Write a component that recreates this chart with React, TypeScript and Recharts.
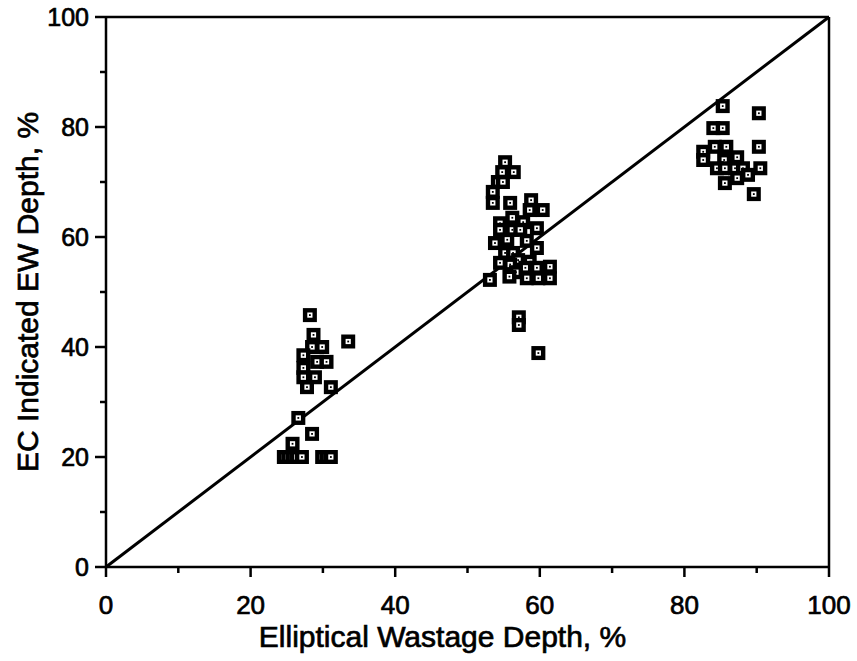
import React from 'react';
import { ScatterChart, Scatter, XAxis, YAxis, ReferenceLine, Label } from 'recharts';

// Elliptical wastage depth (x) vs. eddy-current indicated depth (y), in %
const shallowX = [28.2, 28.7, 33.5, 28.5, 29.9, 27.3, 29.2, 30.5, 27.3, 27.3, 28.9, 27.8, 31.1, 26.6, 28.5, 25.8, 24.6, 25.2, 25.8, 26.4, 27.1, 29.9, 30.5, 31.1];
const shallowY = [45.8, 42.2, 41.0, 40.0, 40.0, 38.5, 37.3, 37.3, 36.2, 34.5, 34.5, 32.7, 32.7, 27.1, 24.2, 22.4, 20, 20, 20, 20, 20, 20, 20, 20];

const mediumX = [55.2, 54.8, 56.4, 54.2, 54.9, 53.5, 53.5, 55.9, 58.8, 58.6, 60.4, 56.2, 54.5, 57.7, 59.6, 54.5, 56.2, 57.3, 55.5, 58.2, 53.8, 59.6, 55.2, 56.3, 57.0, 54.5, 55.9, 58.6, 58.0, 59.6, 61.4, 56.7, 55.8, 58.2, 59.8, 61.4, 53.1, 57.1, 57.1, 59.8];
const mediumY = [73.6, 71.8, 71.8, 70.0, 70.0, 68.2, 66.2, 66.2, 66.7, 64.9, 64.9, 63.5, 62.5, 62.7, 61.6, 61.3, 61.3, 61.3, 59.5, 59.3, 58.9, 58.0, 57.1, 57.1, 55.8, 55.3, 55.0, 55.5, 54.4, 54.4, 54.6, 53.6, 52.8, 52.5, 52.5, 52.5, 52.2, 45.4, 44.0, 38.9];

const deepX = [85.3, 90.3, 84.0, 85.3, 84.2, 85.8, 90.3, 82.6, 87.3, 85.5, 82.6, 84.5, 85.6, 87.0, 88.1, 90.5, 88.8, 87.3, 85.6, 89.6];
const deepY = [83.8, 82.5, 79.8, 79.8, 76.4, 76.4, 76.4, 75.5, 74.5, 74.0, 74.0, 72.5, 72.5, 72.5, 72.5, 72.5, 71.3, 70.7, 69.8, 67.8];

const axisTicks = [0, 10, 20, 30, 40, 50, 60, 70, 80, 90, 100];
const xTitle = 'Elliptical Wastage Depth, %';
const yTitle = 'EC Indicated EW Depth, %';

const toPoints = (xs: number[], ys: number[]) => xs.map((x, i) => ({ x, y: ys[i] }));
const points = [
  ...toPoints(shallowX, shallowY),
  ...toPoints(mediumX, mediumY),
  ...toPoints(deepX, deepY),
];

const FONT = '"Liberation Sans", Arial, Helvetica, sans-serif';
const INK = '#000';

// Heavy square marker with a small white window and a centre dot
const SquareMarker = (props: any) => {
  const { cx, cy } = props;
  if (cx == null || cy == null) return null;
  return (
    <g>
      <rect x={cx - 7} y={cy - 7} width={14} height={14} fill={INK} />
      <rect x={cx - 2.6} y={cy - 2.6} width={5.2} height={5.2} fill="#fff" />
      <rect x={cx - 0.9} y={cy - 0.9} width={1.8} height={1.8} fill={INK} />
    </g>
  );
};

const isMajor = (v: number) => v % 20 === 0;

const LeftTick = (props: any) => {
  const { x, y, payload } = props;
  const v = payload.value;
  const len = isMajor(v) ? 11 : 6;
  return (
    <g>
      <line x1={x - len} y1={y} x2={x} y2={y} stroke={INK} strokeWidth={2.5} />
      {isMajor(v) && (
        <text x={x - 17} y={y + 9} textAnchor="end" fontFamily={FONT} fontSize={25} fill={INK} stroke={INK} strokeWidth={0.7}>
          {v}
        </text>
      )}
    </g>
  );
};

const BottomTick = (props: any) => {
  const { x, y, payload } = props;
  const v = payload.value;
  const len = isMajor(v) ? 10 : 6;
  return (
    <g>
      <line x1={x} y1={y} x2={x} y2={y + len} stroke={INK} strokeWidth={2.5} />
      {isMajor(v) && (
        <text x={x} y={y + 47} textAnchor="middle" fontFamily={FONT} fontSize={26} fill={INK} stroke={INK} strokeWidth={0.7}>
          {v}
        </text>
      )}
    </g>
  );
};

const XTitle = (props: any) => {
  const vb = props.viewBox || {};
  return (
    <text x={vb.x + vb.width / 2 - 25} y={vb.y + 80} textAnchor="middle" fontFamily={FONT} fontSize={30} fill={INK} stroke={INK} strokeWidth={0.7}>
      {xTitle}
    </text>
  );
};

const YTitle = (props: any) => {
  const vb = props.viewBox || {};
  const cx = vb.x + 38;
  const cy = vb.y + vb.height / 2;
  return (
    <text x={cx} y={cy} transform={`rotate(-90 ${cx} ${cy})`} textAnchor="middle" fontFamily={FONT} fontSize={30} fill={INK} stroke={INK} strokeWidth={0.7}>
      {yTitle}
    </text>
  );
};

export default function App() {
  return (
    <div style={{ position: 'absolute', left: 0, top: 0, width: 857, height: 661, background: '#fff' }}>
      <ScatterChart width={857} height={661} margin={{ top: 17, right: 28, bottom: 0, left: 0 }}>
        <XAxis
          type="number"
          dataKey="x"
          domain={[0, 100]}
          ticks={axisTicks}
          interval={0}
          tickSize={0}
          tickMargin={0}
          tick={<BottomTick />}
          axisLine={{ stroke: INK, strokeWidth: 2.5 }}
          tickLine={false}
          height={94}
        >
          <Label content={<XTitle />} />
        </XAxis>
        <YAxis
          type="number"
          dataKey="y"
          domain={[0, 100]}
          ticks={axisTicks}
          interval={0}
          tickSize={0}
          tickMargin={0}
          tick={<LeftTick />}
          axisLine={{ stroke: INK, strokeWidth: 2.5 }}
          tickLine={false}
          width={106}
        >
          <Label content={<YTitle />} />
        </YAxis>
        <ReferenceLine y={100} stroke={INK} strokeWidth={2.5} />
        <ReferenceLine x={100} stroke={INK} strokeWidth={2.5} />
        <ReferenceLine
          segment={[{ x: 0, y: 0 }, { x: 100, y: 100 }]}
          stroke={INK}
          strokeWidth={3}
          ifOverflow="visible"
        />
        <Scatter data={points} shape={<SquareMarker />} isAnimationActive={false} />
      </ScatterChart>
    </div>
  );
}
